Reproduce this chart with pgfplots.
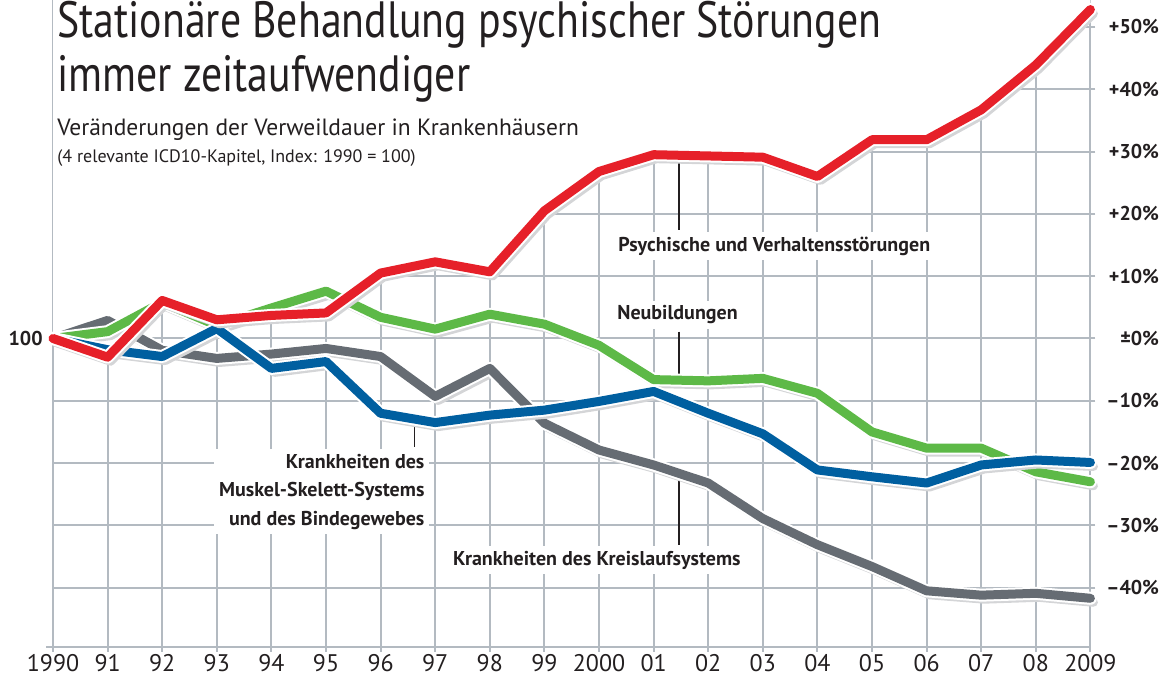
\documentclass[border=0pt]{standalone}
\usepackage{fontspec}
\setmainfont{PT Sans}
\newfontfamily\titlefont{PT Sans}[FakeStretch=0.82]
\newfontfamily\labfont{PT Sans}
\usepackage{pgfplots}
\usepackage{pgfplotstable}
\pgfplotsset{compat=1.18}
\definecolor{redc}{RGB}{230,32,41}
\definecolor{greenc}{RGB}{93,185,71}
\definecolor{bluec}{RGB}{0,95,160}
\definecolor{grayc}{RGB}{102,108,115}
\definecolor{gridc}{RGB}{179,186,193}
\definecolor{shadowc}{RGB}{212,213,215}
\definecolor{textc}{RGB}{35,31,32}

\pgfplotstableread{
year red green blue gray
1990 0 0 0 0
1991 -3.0 1.1 -1.8 2.9
1992 6.1 5.8 -2.9 -1.9
1993 3.0 2.1 1.6 -3.2
1994 3.7 4.9 -4.8 -2.5
1995 4.1 7.6 -3.7 -1.6
1996 10.5 3.4 -12.0 -2.9
1997 12.3 1.5 -13.5 -9.3
1998 10.7 3.9 -12.3 -4.8
1999 20.5 2.3 -11.5 -13.6
2000 26.8 -1.1 -10.1 -17.9
2001 29.5 -6.6 -8.5 -20.3
2002 29.3 -6.8 -12.0 -23.2
2003 29.1 -6.4 -15.3 -28.9
2004 26.0 -8.8 -21.1 -33.1
2005 31.9 -15.0 -22.2 -36.6
2006 31.9 -17.6 -23.2 -40.5
2007 36.7 -17.6 -20.3 -41.2
2008 43.9 -21.4 -19.5 -40.9
2009 52.8 -23.0 -19.9 -41.7
}\datatable

\newcommand{\series}[2]{%
  \addplot[draw=shadowc, line width=4.5pt, line join=round, line cap=round, xshift=1.5pt, yshift=-2pt] table[x=year,y=#1]{\datatable};
  \addplot[draw=white, line width=6.5pt, line join=round, line cap=round] table[x=year,y=#1]{\datatable};
  \addplot[draw=#2, line width=4.5pt, line join=round, line cap=round] table[x=year,y=#1]{\datatable};
}

\begin{document}
\begin{tikzpicture}
\begin{axis}[
  at={(26.5pt,18.65pt)}, anchor=south west,
  scale only axis, width=518.7pt, height=323.35pt,
  xmin=1990, xmax=2009, ymin=-49.47, ymax=54.33,
  axis line style={draw=none},
  grid=major, grid style={draw=gridc, line width=1pt},
  xtick={1990,1991,...,2009},
  xticklabels={1990,91,92,93,94,95,96,97,98,99,2000,01,02,03,04,05,06,07,08,2009},
  ytick={-40,-30,...,50},
  yticklabels={–40\%,–30\%,–20\%,–10\%,±0\%,+10\%,+20\%,+30\%,+40\%,+50\%},
  xtick pos=left, ytick pos=right, tick align=outside,
  major tick length=2.5pt,
  tick style={draw=gridc, line width=1pt},
  xticklabel style={font=\fontsize{12}{12}\selectfont, text=textc, inner sep=0pt, yshift=-1pt},
  yticklabel style={font=\bfseries\fontsize{10}{10}\selectfont, text=textc, anchor=east, inner sep=0pt, xshift=32pt},
  clip=false,
]
% white area above the top curve hides the grid there
\addplot[fill=white, draw=none] table[x=year,y=red]{\datatable} -- (axis cs:2009,54.33) -- (axis cs:1990,54.33) -- cycle;
\draw[gridc, line width=1pt] ([xshift=-3.5pt]axis cs:1990,-49.47) -- (axis cs:2009,-49.47);

% leader lines
\draw[textc, line width=0.8pt] (axis cs:2001.47,29.4) -- (axis cs:2001.47,17.4);
\draw[textc, line width=0.8pt] (axis cs:2001.47,1.1) -- (axis cs:2001.47,-6.7);
\draw[textc, line width=0.8pt] (axis cs:2001.47,-21.8) -- (axis cs:2001.47,-33.1);
\draw[textc, line width=0.8pt] (axis cs:1996.62,-12.9) -- (axis cs:1996.62,-17.4);

\series{gray}{grayc}
\series{green}{greenc}
\series{blue}{bluec}
\series{red}{redc}

\node[anchor=east, inner sep=0pt, text=textc, font=\bfseries\fontsize{10}{10}\selectfont] at ([xshift=-5pt]axis cs:1990,0) {100};

\node[fill=white, inner sep=2.5pt, text=textc, font=\labfont\bfseries\fontsize{10}{10}\selectfont] at (axis cs:2003.21,14.85) {Psychische und Verhaltensstörungen};
\node[fill=white, inner sep=2.5pt, anchor=west, text=textc, font=\labfont\bfseries\fontsize{10}{10}\selectfont] at ([xshift=-2.5pt]axis cs:2000.33,3.77) {Neubildungen};
\node[fill=white, inner sep=2.5pt, text=textc, font=\labfont\bfseries\fontsize{10}{10}\selectfont] at (axis cs:1999.96,-35.55) {Krankheiten des Kreislaufsystems};
\node[fill=white, inner sep=2.5pt, anchor=east, align=right, text=textc, font=\labfont\bfseries\fontsize{10}{14.2}\selectfont] at ([xshift=2.5pt]axis cs:1996.81,-24.6) {Krankheiten des\\Muskel-Skelett-Systems\\und des Bindegewebes};
\end{axis}

\node[anchor=base west, inner sep=0pt, text=textc, font=\titlefont\fontsize{25.5}{25.5}\selectfont] at (28.5pt,323pt) {Stationäre Behandlung psychischer Störungen};
\node[anchor=base west, inner sep=0pt, text=textc, font=\titlefont\fontsize{25.5}{25.5}\selectfont] at (28.5pt,296pt) {immer zeitaufwendiger};
\node[anchor=base west, inner sep=0pt, text=textc, font=\fontsize{11.75}{11.75}\selectfont] at (28.5pt,274pt) {Veränderungen der Verweildauer in Krankenhäusern};
\node[anchor=base west, inner sep=0pt, text=textc, font=\fontsize{9}{9}\selectfont] at (28.5pt,260.5pt) {(4 relevante ICD10-Kapitel, Index: 1990 = 100)};

\pgfresetboundingbox
\useasboundingbox (0,0) rectangle (583pt,342pt);
\end{tikzpicture}
\end{document}
